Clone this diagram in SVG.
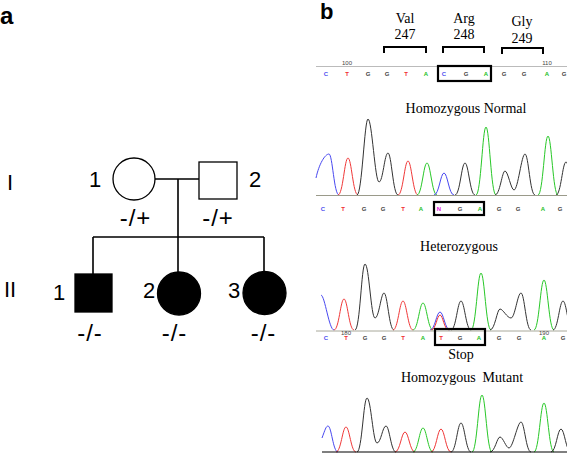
<svg xmlns="http://www.w3.org/2000/svg" width="567" height="453" viewBox="0 0 567 453">
<style>
.lbl{font-family:"Liberation Sans",Arial,sans-serif;font-weight:bold;font-size:22px;fill:#000}
.ped{font-family:"Liberation Sans",Arial,sans-serif;font-size:22px;fill:#000}
.gt{font-family:"Liberation Sans",Arial,sans-serif;font-size:24px;fill:#000;text-anchor:middle;letter-spacing:1px}
.ser{font-family:"Liberation Serif","Times New Roman",serif;font-size:14px;fill:#000;text-anchor:middle}
.seq{font-family:"Liberation Sans",Arial,sans-serif;font-size:6px;text-anchor:middle;font-weight:bold}
.num{font-family:"Liberation Sans",Arial,sans-serif;font-size:6px;text-anchor:middle;fill:#444}
.lc{fill:#5050f0}.lt{fill:#f03030}.lg{fill:#444}.la{fill:#20c020}.ln{fill:#e020e0}
.line{stroke:#000;stroke-width:1.6;fill:none}
.open{fill:#fff;stroke:#000;stroke-width:1.3}
.aff{fill:#000;stroke:#000;stroke-width:1.3}
.br{stroke:#000;stroke-width:2;fill:none}
.box{stroke:#000;stroke-width:2.2;fill:none}
.pb{fill:none;stroke:#4848f0;stroke-width:1}
.pr{fill:none;stroke:#f03838;stroke-width:1}
.pg{fill:none;stroke:#28c828;stroke-width:1}
.pk{fill:none;stroke:#333;stroke-width:1}
</style>
<rect width="567" height="453" fill="#fff"/>
<text class="lbl" x="0" y="24" style="font-size:24px">a</text>
<text class="lbl" x="320" y="19">b</text>

<g id="pedigree">
  <g id="connectors">
    <path class="line" d="M155,179 H199 M178,179 V273 M93,237 H264 M93,237 V274 M264,237 V273"/>
  </g>
  <g id="I-1"><circle class="open" cx="134" cy="179" r="21"/><text class="ped" x="89" y="187">1</text><text class="gt" x="135.5" y="226">-/+</text></g>
  <g id="I-2"><rect class="open" x="199" y="162" width="38" height="37"/><text class="ped" x="249" y="187">2</text><text class="gt" x="218" y="226">-/+</text></g>
  <g id="II-1"><rect class="aff" x="75" y="274" width="37" height="38"/><text class="ped" x="53" y="300">1</text><text class="gt" x="90" y="341">-/-</text></g>
  <g id="II-2"><circle class="aff" cx="179" cy="293.5" r="21.5"/><text class="ped" x="143" y="298">2</text><text class="gt" x="174.5" y="341">-/-</text></g>
  <g id="II-3"><circle class="aff" cx="264.5" cy="293" r="21.5"/><text class="ped" x="228" y="298">3</text><text class="gt" x="263.5" y="341">-/-</text></g>
  <text class="ped" x="7" y="190">I</text>
  <text class="ped" x="4" y="297">II</text>
</g>

<g id="codons">
  <text class="ser" x="405" y="23">Val</text><text class="ser" x="405" y="39">247</text>
  <text class="ser" x="464" y="23">Arg</text><text class="ser" x="464" y="39">248</text>
  <text class="ser" x="522" y="26">Gly</text><text class="ser" x="522" y="43">249</text>
  <path class="br" d="M384,53 V47 H426 V53 M443,53 V47 H484 V53 M502,54 V48 H543 V54"/>
</g>

<g id="seq1">
  <line x1="316" y1="66.5" x2="567" y2="66.5" stroke="#aaa" stroke-width="0.8"/>
  <text class="num" x="347" y="65">100</text><text class="num" x="547" y="65">110</text>
  <g class="seq">
    <text class="lc" x="326" y="75.5">C</text><text class="lt" x="347" y="75.5">T</text><text class="lg" x="368" y="75.5">G</text><text class="lg" x="387" y="75.5">G</text><text class="lt" x="406" y="75.5">T</text><text class="la" x="426" y="75.5">A</text><text class="lc" x="444" y="75.5">C</text><text class="lg" x="466" y="75.5">G</text><text class="la" x="486" y="75.5">A</text><text class="lg" x="504" y="75.5">G</text><text class="lg" x="524" y="75.5">G</text><text class="la" x="547" y="75.5">A</text><text class="lg" x="564" y="75.5">G</text>
  </g>
  <rect class="box" x="438" y="66" width="53" height="15"/>
</g>

<text class="ser" x="466" y="113">Homozygous Normal</text>

<g id="trace1">
  <path class="pb" d="M316,178 C319,164 325,154 329,154 C332.5,154 334,195 339,195"/>
  <path class="pr" d="M338,195 C343,195 344.5,158 348,158 C351.5,158 353,195 358,195"/>
  <path class="pk" d="M357,195 C362,195 364.5,119 368,119 C372,119 375,182 379,182 C383,182 384.5,153 388,153 C391.5,153 393,195 398,195"/>
  <path class="pr" d="M398,195 C403,195 404.5,161 408,161 C411.5,161 413,195 418,195"/>
  <path class="pg" d="M417,195 C422,195 423.5,163 427,163 C430.5,163 432,195 437,195"/>
  <path class="pb" d="M434,195 C439,195 440.5,173 444,173 C447.5,173 449,195 454,195"/>
  <path class="pk" d="M455,195 C460,195 461.5,163 465,163 C468.5,163 470,195 475,195"/>
  <path class="pg" d="M476,195 C481,195 482.5,127 486,127 C489.5,127 491,195 496,195"/>
  <path class="pk" d="M495,195 C500,195 502,171 505,171 C508,171 511,190 514,190 C518,190 521.5,154 525,154 C528.5,154 530,195 535,195"/>
  <path class="pg" d="M538,195 C543,195 544.5,136 548,136 C551.5,136 553,195 558,195"/>
  <path class="pk" d="M556,195 C561,195 562.5,162 566,162 C569.5,162 571,195 576,195"/>
  <line x1="316" y1="195.5" x2="567" y2="195.5" stroke="#9a9a8a" stroke-width="1"/>
</g>

<g id="seq2">
  <g class="seq">
    <text class="lc" x="323" y="211">C</text><text class="lt" x="343" y="211">T</text><text class="lg" x="364" y="211">G</text><text class="lg" x="383" y="211">G</text><text class="lt" x="403" y="211">T</text><text class="la" x="421" y="211">A</text><text class="ln" x="439" y="211">N</text><text class="lg" x="460" y="211">G</text><text class="la" x="480" y="211">A</text><text class="lg" x="499" y="211">G</text><text class="lg" x="518" y="211">G</text><text class="la" x="543" y="211">A</text><text class="lg" x="560" y="211">G</text>
  </g>
  <rect class="box" x="434" y="202" width="50" height="13"/>
</g>

<text class="ser" x="459" y="251">Heterozygous</text>

<g id="trace2">
  <path class="pb" d="M321,295 C325,296 329,330 334,330"/>
  <path class="pr" d="M334,330 C339,330 340.5,299 344,299 C347.5,299 349,330 354,330"/>
  <path class="pk" d="M355,330 C360,330 361.5,264 365,264 C369,264 371,318 375,318 C379,318 381,293 384,293 C387.5,293 389,330 394,330"/>
  <path class="pr" d="M393,330 C398,330 399.5,301 403,301 C406.5,301 408,330 413,330"/>
  <path class="pg" d="M413,330 C418,330 419.5,303 423,303 C426.5,303 428,330 433,330"/>
  <path class="pb" d="M430,330 C435,330 436.5,312 440,312 C443.5,312 445,330 450,330"/>
  <path class="pr" d="M431,330 C436,330 437,315 440,315 C443,315 444,330 449,330"/>
  <path class="pk" d="M451,330 C456,330 457.5,301 461,301 C464.5,301 466,330 471,330"/>
  <path class="pg" d="M471,330 C476,330 477.5,273 481,273 C484.5,273 486,330 491,330"/>
  <path class="pk" d="M490,330 C495,330 497,309 500,309 C503,309 507,318 511,318 C515,318 517.5,293 521,293 C524.5,293 526,330 531,330"/>
  <path class="pg" d="M534,330 C539,330 540.5,280 544,280 C547.5,280 549,330 554,330"/>
  <path class="pk" d="M553,330 C558,330 559.5,301 563,301 C566.5,301 568,330 573,330"/>
  <line x1="316" y1="331" x2="567" y2="331" stroke="#a8a89a" stroke-width="1"/>
</g>

<g id="seq3">
  <text class="num" x="346" y="334.5">180</text><text class="num" x="544" y="334.5">190</text>
  <g class="seq">
    <text class="lc" x="326" y="339.5">C</text><text class="lt" x="346" y="339.5">T</text><text class="lg" x="365" y="339.5">G</text><text class="lg" x="384" y="339.5">G</text><text class="lt" x="403" y="339.5">T</text><text class="la" x="423" y="339.5">A</text><text class="lt" x="441" y="339.5">T</text><text class="lg" x="460" y="339.5">G</text><text class="la" x="479" y="339.5">A</text><text class="lg" x="499" y="339.5">G</text><text class="lg" x="519" y="339.5">G</text><text class="la" x="544" y="339.5">A</text><text class="lg" x="563" y="339.5">G</text>
  </g>
  <rect class="box" x="435" y="329" width="50" height="16"/>
</g>

<text class="ser" x="461" y="359">Stop</text>
<text class="ser" x="462" y="381.5" xml:space="preserve">Homozygous  Mutant</text>

<g id="trace3">
  <path class="pb" d="M322,438 C325,430 326,426 328,426 C331.5,426 333,452 338,452"/>
  <path class="pr" d="M336,452 C341,452 342.5,427 346,427 C349.5,427 351,452 356,452"/>
  <path class="pk" d="M357,452 C362,452 363.5,398 367,398 C371,398 373,443 377,443 C381,443 382.5,426 386,426 C389.5,426 391,452 396,452"/>
  <path class="pr" d="M395,452 C400,452 401.5,432 405,432 C408.5,432 410,452 415,452"/>
  <path class="pg" d="M413,452 C418,452 419.5,428 423,428 C426.5,428 428,452 433,452"/>
  <path class="pr" d="M431,452 C436,452 437.5,429 441,429 C444.5,429 446,452 451,452"/>
  <path class="pk" d="M451,452 C456,452 457.5,423 461,423 C464.5,423 466,452 471,452"/>
  <path class="pg" d="M472,452 C477,452 478.5,395 482,395 C485.5,395 487,452 492,452"/>
  <path class="pk" d="M490,452 C495,452 497,437 500,437 C503,437 506,448 509,448 C513,448 517.5,422 521,422 C524.5,422 526,452 531,452"/>
  <path class="pg" d="M534,452 C539,452 540.5,403 544,403 C547.5,403 549,452 554,452"/>
  <path class="pk" d="M551,452 C556,452 557.5,429 561,429 C564.5,429 566,452 571,452"/>
  <line x1="322" y1="452" x2="567" y2="452" stroke="#000" stroke-width="1.2"/>
</g>
</svg>
